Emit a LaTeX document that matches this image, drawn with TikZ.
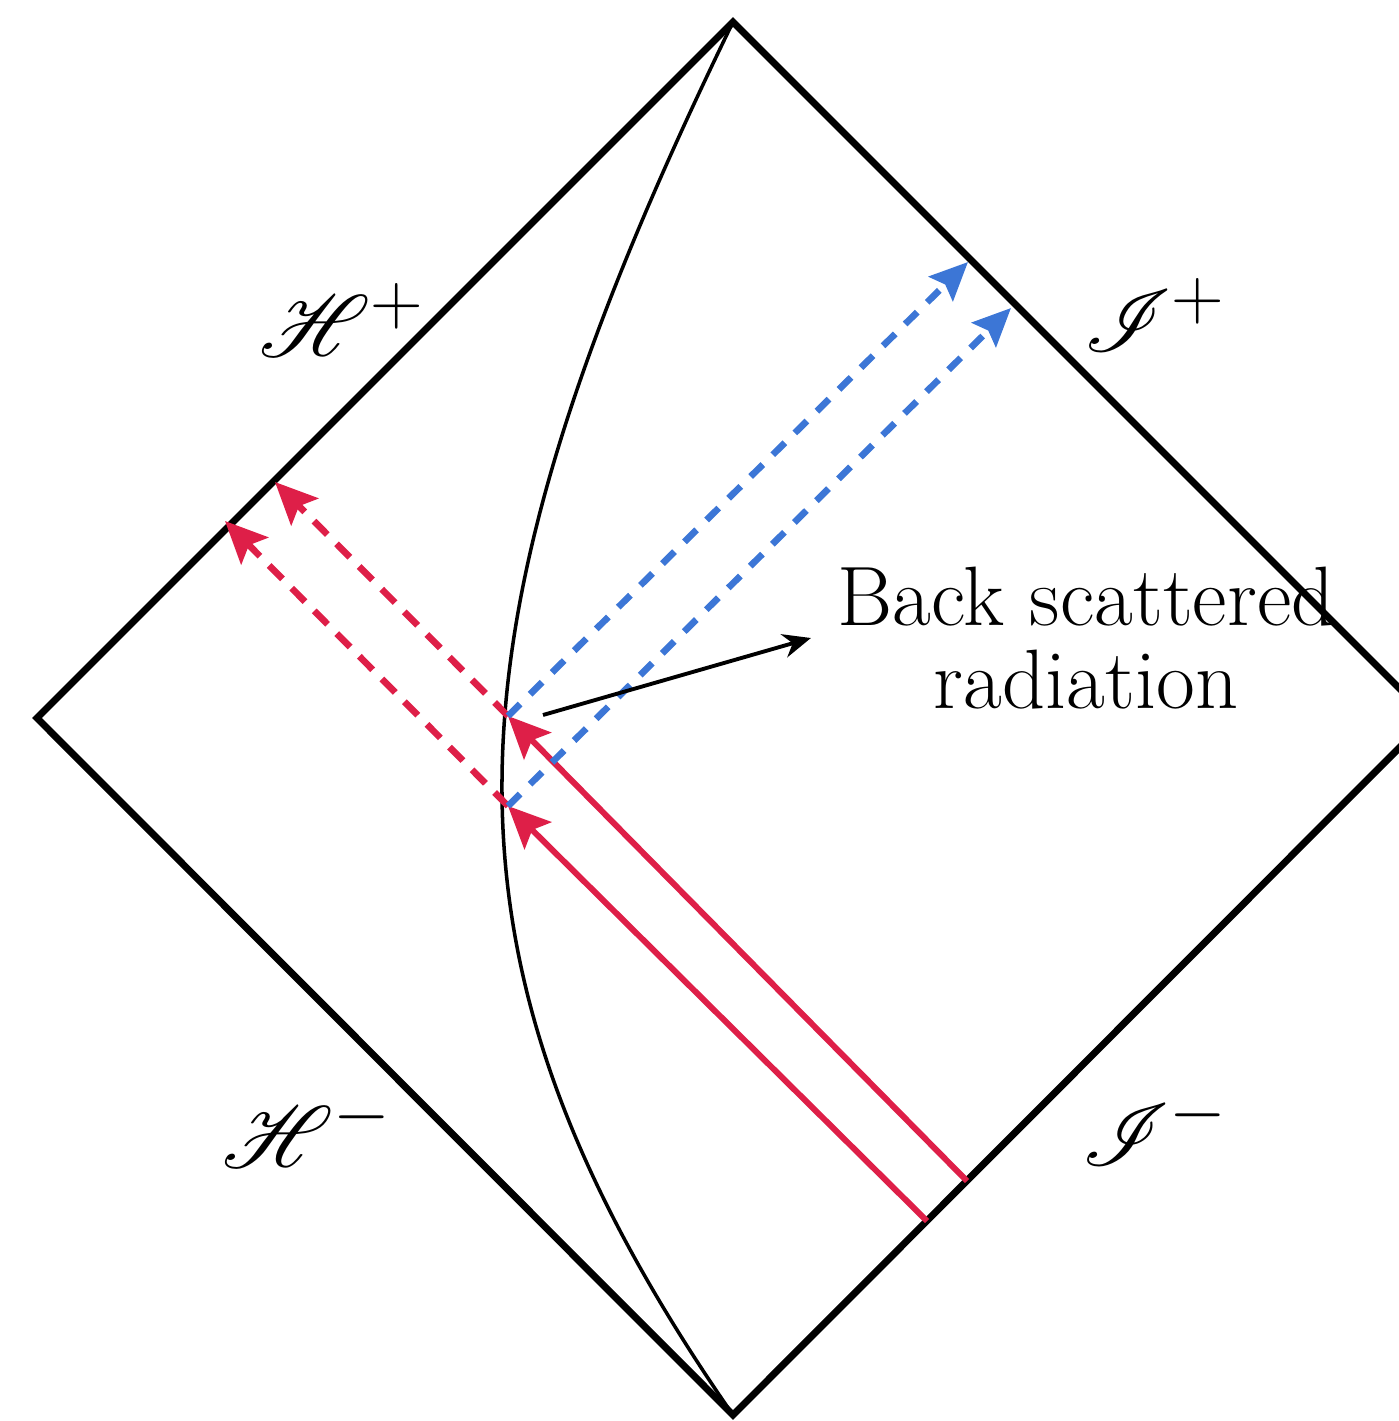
\documentclass[tikz,border=0pt]{standalone}
\usepackage{amsmath}
\usepackage{mathrsfs}
\usetikzlibrary{arrows.meta}
\definecolor{ingoing}{HTML}{DE1F48}
\definecolor{outgoing}{HTML}{3C76D6}

\begin{document}
\begin{tikzpicture}[x=0.1mm, y=-0.1mm,
  horizon/.style={line width=2pt, line join=miter},
  shell/.style={line width=1pt},
  ray/.style={line width=1.7pt, color=ingoing, -{Stealth[length=4.2mm, width=3.8mm, inset=0.8mm]}},
  refl/.style={ray, line width=1.9pt, dash pattern=on 1.9mm off 1.3mm},
  scat/.style={line width=1.9pt, color=outgoing, dash pattern=on 1.7mm off 1.4mm,
               -{Stealth[length=3.8mm, width=3.4mm, inset=0.6mm]}},
  pointer/.style={line width=1.1pt, -{Stealth[length=2.8mm, width=2.4mm]}},
  lbl/.style={font=\fontsize{24.88}{30}\selectfont, inner sep=0pt},
]
  \clip (0,0) rectangle (1399,1421);

  % corners of the diagram
  \coordinate (top)   at (733,22);
  \coordinate (left)  at (37,718);
  \coordinate (bot)   at (733,1415);
  \coordinate (right) at (1429,718);

  \draw[horizon] (top) -- (right) -- (bot) -- (left) -- cycle;
  \draw[shell] (top) .. controls (432,640) and (418,960) .. (bot);

  % incoming rays and scattering points
  \coordinate (in1) at (967,1181);
  \coordinate (in2) at (927,1221);
  \coordinate (s1)  at (508,716);
  \coordinate (s2)  at (508,806);
  \coordinate (h1)  at (275,482);
  \coordinate (h2)  at (225,521);
  \coordinate (j1)  at (968,262);
  \coordinate (j2)  at (1011,308);

  \draw[ray]  (in1) -- (s1);
  \draw[ray]  (in2) -- (s2);
  \draw[refl] (s1) -- (h1);
  \draw[refl] (s2) -- (h2);
  \draw[scat] (s1) -- (j1);
  \draw[scat] (s2) -- (j2);

  % labels
  \node[lbl] (hp) at (342,320)  {$\mathscr{H}^{+}$};
  \node[lbl] (jp) at (1155,315) {$\mathscr{I}^{+}$};
  \node[lbl] (hm) at (307,1130) {$\mathscr{H}^{-}$};
  \node[lbl] (jm) at (1155,1128){$\mathscr{I}^{-}$};

  \node[font=\fontsize{24}{23.6}\selectfont, align=center, inner sep=2.6mm] (bsr) at (1086,638)
    {Back scattered\\radiation};

  \coordinate (ptr) at (543,715);
  \draw[pointer] (ptr) -- (bsr.west);
\end{tikzpicture}
\end{document}
